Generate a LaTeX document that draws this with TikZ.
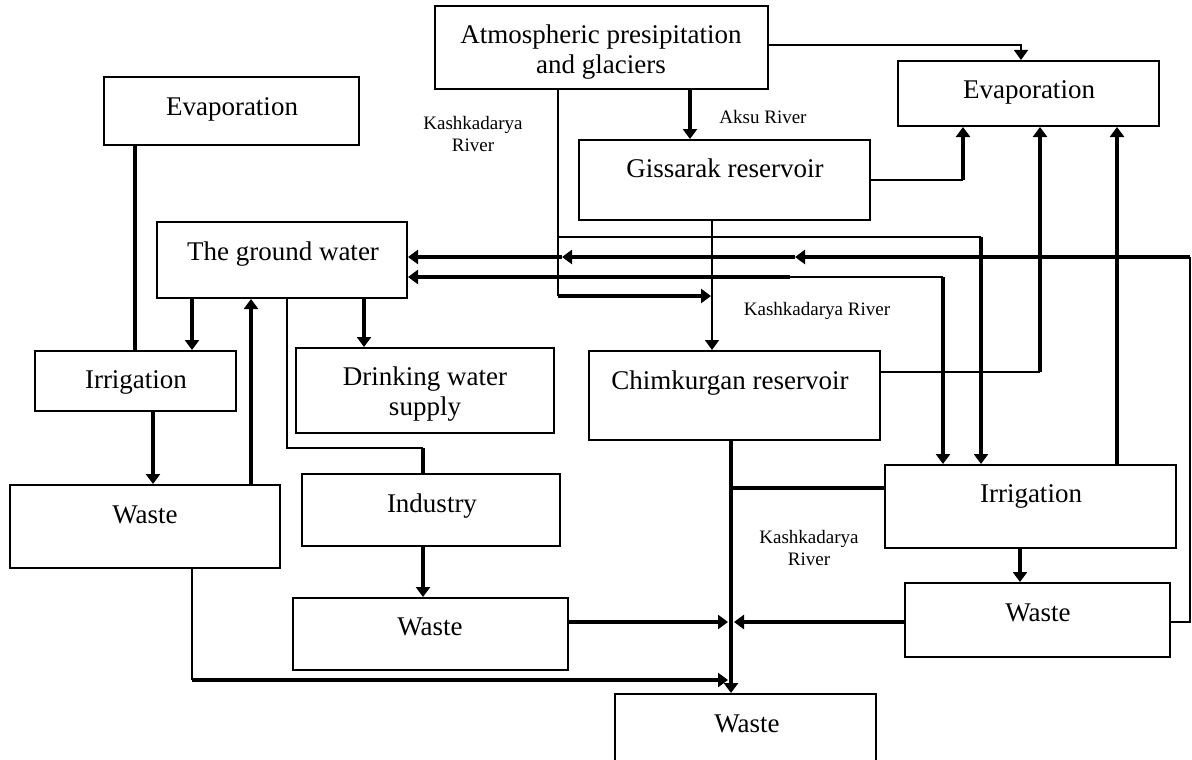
\documentclass[tikz,border=0pt]{standalone}
\usepackage{fontspec}
\setmainfont{Liberation Serif}
\usepackage{tikz}
\usetikzlibrary{arrows.meta}

\tikzset{
  box/.style 2 args={draw, line width=2pt, minimum width=#1, minimum height=#2, inner sep=0pt},
  txt/.style={font=\fontsize{27}{30}\selectfont, inner sep=0pt, anchor=base},
  txtt/.style={font=\fontsize{27}{30}\selectfont, inner sep=0pt, align=center},
  riv/.style={font=\fontsize{19}{22}\selectfont, inner sep=0pt, align=center},
  kline/.style={line width=3.5pt},
  tline/.style={line width=1.6pt}
}

\begin{document}
\begin{tikzpicture}[x=1pt, y=-1pt, >={Triangle[length=10pt,width=14pt]}]
\useasboundingbox (0,0) rectangle (1192,760);

\node (atm) [box={333pt}{83pt}] at (601.5,47.5) {};
\node (evapR) [box={261pt}{65pt}] at (1028.5,93.5) {};
\node (evapL) [box={255pt}{68pt}] at (231.5,111) {};
\node (gis) [box={291pt}{80pt}] at (724.5,180) {};
\node (gw) [box={250pt}{76pt}] at (282,260) {};
\node (irrL) [box={201pt}{60pt}] at (135.5,381) {};
\node (drink) [box={258pt}{85pt}] at (425,390.5) {};
\node (chim) [box={291pt}{89pt}] at (734.5,395.5) {};
\node (wasteL) [box={270pt}{83pt}] at (145,526.5) {};
\node (ind) [box={258pt}{72pt}] at (431,510) {};
\node (irrR) [box={291pt}{83pt}] at (1030.5,506.5) {};
\node (wasteM) [box={275pt}{72pt}] at (430.5,634) {};
\node (wasteR) [box={265pt}{74pt}] at (1037.5,620) {};
\node (wasteB) [box={261pt}{76pt}] at (745.5,732) {};

\node (atm-t) [txtt] at (601,52) {Atmospheric presipitation\\and glaciers};
\node (evapR-t) [txt] at (1029,99) {Evaporation};
\node (evapL-t) [txt] at (232,115) {Evaporation};
\node (gis-t) [txt] at (725,177) {Gissarak reservoir};
\node (gw-t) [txt] at (283,260) {The ground water};
\node (irrL-t) [txt] at (136,388) {Irrigation};
\node (drink-t) [txtt] at (425,394) {Drinking water\\supply};
\node (chim-t) [txt] at (730,389) {Chimkurgan reservoir};
\node (wasteL-t) [txt] at (145,523) {Waste};
\node (ind-t) [txt] at (432,512) {Industry};
\node (irrR-t) [txt] at (1031,502) {Irrigation};
\node (wasteM-t) [txt] at (430,635) {Waste};
\node (wasteR-t) [txt] at (1038,621) {Waste};
\node (wasteB-t) [txt] at (747,732) {Waste};

\node (riv1) [riv] at (473,134.5) {Kashkadarya\\River};
\node (riv2) [riv, anchor=base] at (763,123) {Aksu River};
\node (riv3) [riv, anchor=base] at (817,315) {Kashkadarya River};
\node (riv4) [riv] at (809,547.5) {Kashkadarya\\River};

\coordinate (kA) at (558,296);
\coordinate (kB) at (558,237);
\coordinate (kC) at (1190,257);
\coordinate (kD) at (790,277);
\coordinate (kE) at (423,448);
\coordinate (kF) at (192,680);

\draw[tline,->] (atm.east |- 0,45) -| (1021,0 |- evapR.north);
\draw[kline,->] (690,0 |- atm.south) -- (690,0 |- gis.north);
\draw[tline] (gis.east) -- (963,180);
\draw[kline,->] (963,180) -- (963,0 |- evapR.south);
\draw[tline] (chim.east |- 0,372) -- (1040,372);
\draw[kline,->] (1040,372) -- (1040,0 |- evapR.south);
\draw[kline,->] (1117,0 |- irrR.north) -- (1117,0 |- evapR.south);

\draw[tline] (558,0 |- atm.south) -- (kA);
\draw[kline,->] (kA) -- (711,296);
\draw[tline,->] (712,0 |- gis.south) -- (712,0 |- chim.north);
\draw[tline] (kB) -- (981,237);
\draw[kline,->] (981,237) -- (981,0 |- irrR.north);

\draw[tline] (wasteR.east |- 0,622) -- (1190,622) -- (kC);
\draw[kline,->] (kC) -- (795,257);
\draw[kline,->] (795,257) -- (562,257);
\draw[kline,->] (562,257) -- (gw.east |- 0,257);
\draw[kline,<-] (gw.east |- 0,277) -- (kD);
\draw[tline] (kD) -- (943,277);
\draw[kline,->] (943,277) -- (943,0 |- irrR.north);

\draw[kline] (135,0 |- evapL.south) -- (135,0 |- irrL.north);
\draw[kline,->] (192,0 |- gw.south) -- (192,0 |- irrL.north);
\draw[kline,->] (251,0 |- wasteL.north) -- (251,0 |- gw.south);
\draw[tline] (287,0 |- gw.south) |- (kE);
\draw[kline] (kE) -- (423,0 |- ind.north);
\draw[kline,->] (364,0 |- gw.south) -- (364,0 |- drink.north);
\draw[kline,->] (153,0 |- irrL.south) -- (153,0 |- wasteL.north);
\draw[kline,->] (423,0 |- ind.south) -- (423,0 |- wasteM.north);

\draw[tline] (192,0 |- wasteL.south) -- (kF);
\draw[kline,->] (kF) -- (728,680);
\draw[kline,->] (wasteM.east |- 0,622) -- (728,622);
\draw[kline,->] (wasteR.west |- 0,622) -- (734,622);
\draw[kline,->] (731,0 |- chim.south) -- (731,0 |- wasteB.north);
\draw[kline] (irrR.west |- 0,488) -- (731,488);
\draw[kline,->] (1020,0 |- irrR.south) -- (1020,0 |- wasteR.north);
\end{tikzpicture}
\end{document}
